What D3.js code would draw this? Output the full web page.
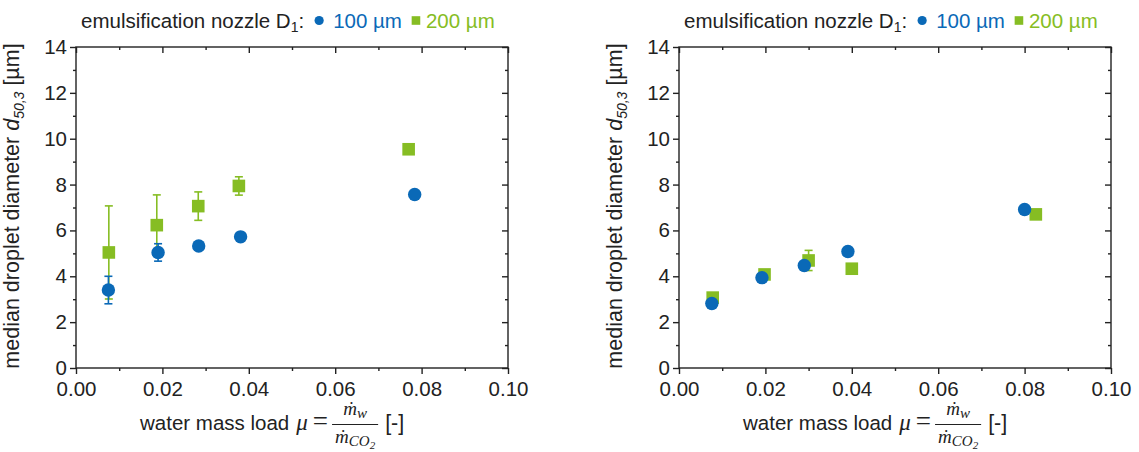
<!DOCTYPE html>
<html>
<head>
<meta charset="utf-8">
<script src="https://cdn.jsdelivr.net/npm/d3@7"></script>
<style>
  body { margin: 0; background: #fff; }
  text { font-family: "Liberation Sans", Arial, sans-serif; }
</style>
</head>
<body>
<svg id="chart" width="1139" height="452"></svg>
<script>
const xTicks = [0, 0.02, 0.04, 0.06, 0.08, 0.10];
const xMinor = [0.01, 0.03, 0.05, 0.07, 0.09];
const yTicks = [0, 2, 4, 6, 8, 10, 12, 14];
const yMinor = [1, 3, 5, 7, 9, 11, 13];
const seriesNames = ['100 µm', '200 µm'];
const seriesColors = ['#0a69b7', '#86bd23'];

// [water mass load, d50,3 in µm, error]
const left100 = [[0.0075, 3.40, 0.60], [0.0190, 5.04, 0.38], [0.0284, 5.32, 0], [0.0381, 5.72, 0], [0.0784, 7.57, 0]];
const left200 = [[0.0076, 5.04, 2.03], [0.0187, 6.23, 1.32], [0.0283, 7.06, 0.62], [0.0377, 7.94, 0.40], [0.0770, 9.54, 0.10]];
const right100 = [[0.0076, 2.81, 0.08], [0.0192, 3.94, 0.10], [0.0290, 4.47, 0.10], [0.0391, 5.08, 0], [0.0800, 6.91, 0]];
const right200 = [[0.0078, 3.07, 0], [0.0198, 4.08, 0], [0.0300, 4.69, 0.44], [0.0400, 4.33, 0], [0.0826, 6.70, 0]];

const svg = d3.select('#chart');
const ink = '#222';
const fs = 20.5;

drawPanel(76, left100, left200);
drawPanel(679, right100, right200);

function drawPanel(x0, d100, d200) {
  const x = d3.scaleLinear().domain([0, 0.1]).range([x0, x0 + 432]);
  const y = d3.scaleLinear().domain([0, 14]).range([368, 47]);
  const g = svg.append('g');

  // axes (Origin style: outer ticks on bottom/left, mirrored inner ticks top/right)
  const fmt = d3.format('.2f');
  axis(g, d3.axisBottom(x).tickValues(xTicks).tickSize(6).tickPadding(7).tickFormat(fmt), 0, 368);
  axis(g, d3.axisBottom(x).tickValues(xMinor).tickSize(3).tickFormat(''), 0, 368);
  axis(g, d3.axisTop(x).tickValues(xTicks).tickSize(-6).tickFormat(''), 0, 47);
  axis(g, d3.axisTop(x).tickValues(xMinor).tickSize(-3).tickFormat(''), 0, 47);
  axis(g, d3.axisLeft(y).tickValues(yTicks).tickSize(6).tickPadding(3).tickFormat(d3.format('d')), x0, 0);
  axis(g, d3.axisLeft(y).tickValues(yMinor).tickSize(3).tickFormat(''), x0, 0);
  axis(g, d3.axisRight(y).tickValues(yTicks).tickSize(-6).tickFormat(''), x0 + 432, 0);
  axis(g, d3.axisRight(y).tickValues(yMinor).tickSize(-3).tickFormat(''), x0 + 432, 0);

  g.append('rect')
    .attr('x', x0).attr('y', 47)
    .attr('width', 432).attr('height', 321)
    .attr('fill', 'none').attr('stroke', ink).attr('stroke-width', 1.4);

  // series: 200 µm first, 100 µm on top
  [[d200, 1], [d100, 0]].forEach(([data, si]) => {
    const col = seriesColors[si];
    const eb = g.append('g').attr('stroke', col).attr('stroke-width', 1.6);
    data.filter(d => d[2] > 0).forEach(d => {
      const cx = x(d[0]);
      eb.append('line').attr('x1', cx).attr('x2', cx).attr('y1', y(d[1] - d[2])).attr('y2', y(d[1] + d[2]));
      [d[1] - d[2], d[1] + d[2]].forEach(v => {
        eb.append('line').attr('x1', cx - 4).attr('x2', cx + 4).attr('y1', y(v)).attr('y2', y(v));
      });
    });
    if (si === 0) {
      g.selectAll(null).data(data).enter().append('circle')
        .attr('cx', d => x(d[0])).attr('cy', d => y(d[1])).attr('r', 6.7)
        .attr('fill', col);
    } else {
      g.selectAll(null).data(data).enter().append('rect')
        .attr('x', d => x(d[0]) - 6.3).attr('y', d => y(d[1]) - 6.3)
        .attr('width', 12.6).attr('height', 12.6).attr('fill', col);
    }
  });

  // legend title
  let cx = x0 + 5;
  const ty = 28;
  const t = g.append('text').attr('x', cx).attr('y', ty).attr('font-size', fs).attr('fill', ink);
  t.append('tspan').text('emulsification nozzle D');
  t.append('tspan').attr('font-size', 14).attr('dy', 4).text('1');
  t.append('tspan').attr('dy', -4).text(':');
  cx += t.node().getComputedTextLength() + 15;
  g.append('circle').attr('cx', cx).attr('cy', ty - 7.5).attr('r', 4.6).attr('fill', seriesColors[0]);
  cx += 14;
  const t1 = g.append('text').attr('x', cx).attr('y', ty).attr('font-size', fs)
    .attr('fill', seriesColors[0]).text(seriesNames[0]);
  cx += t1.node().getComputedTextLength() + 14;
  g.append('rect').attr('x', cx - 4.3).attr('y', ty - 11.8).attr('width', 8.6).attr('height', 8.6)
    .attr('fill', seriesColors[1]);
  cx += 10;
  g.append('text').attr('x', cx).attr('y', ty).attr('font-size', fs)
    .attr('fill', seriesColors[1]).text(seriesNames[1]);

  // y axis title
  const yt = g.append('text')
    .attr('transform', `translate(${x0 - 57},206) rotate(-90)`)
    .attr('text-anchor', 'middle').attr('font-size', 21.5).attr('fill', ink);
  yt.append('tspan').text('median droplet diameter ');
  yt.append('tspan').attr('font-style', 'italic').text('d');
  yt.append('tspan').attr('font-style', 'italic').attr('font-size', 14).attr('dy', 5).text('50,3');
  yt.append('tspan').attr('dy', -5).text(' [µm]');

  // x axis title
  const serif = '"Liberation Serif", "DejaVu Serif", serif';
  let lx = x0 + 64;
  const by = 430;
  const a = g.append('text').attr('x', lx).attr('y', by).attr('font-size', fs).attr('fill', ink)
    .text('water mass load');
  lx += a.node().getComputedTextLength() + 7;
  const mu = g.append('text').attr('x', lx).attr('y', by).attr('font-size', 23).attr('fill', ink)
    .attr('font-style', 'italic').style('font-family', serif).text('μ');
  lx += mu.node().getComputedTextLength() + 5;
  const eq = g.append('text').attr('x', lx).attr('y', by).attr('font-size', 27).attr('fill', ink)
    .style('font-family', serif).text('=');
  lx += eq.node().getComputedTextLength() + 4;
  const num = g.append('text').attr('y', by - 15).attr('font-size', 19).attr('fill', ink)
    .attr('font-style', 'italic').style('font-family', serif).attr('text-anchor', 'middle');
  num.append('tspan').text('ṁ');
  num.append('tspan').attr('font-size', 15).attr('dy', 3).text('w');
  const den = g.append('text').attr('y', by + 13).attr('font-size', 19).attr('fill', ink)
    .attr('font-style', 'italic').style('font-family', serif).attr('text-anchor', 'middle');
  den.append('tspan').text('ṁ');
  den.append('tspan').attr('font-size', 15).attr('dy', 3).text('CO');
  den.append('tspan').attr('font-size', 11).attr('dy', 3).text('2');
  const fw = Math.max(num.node().getComputedTextLength(), den.node().getComputedTextLength()) + 6;
  num.attr('x', lx + fw / 2);
  den.attr('x', lx + fw / 2);
  g.append('line').attr('x1', lx).attr('x2', lx + fw).attr('y1', by - 5.5).attr('y2', by - 5.5)
    .attr('stroke', ink).attr('stroke-width', 1.1);
  lx += fw + 7;
  g.append('text').attr('x', lx).attr('y', by).attr('font-size', 21.5).attr('fill', ink).text('[-]');
}

function axis(g, ax, tx, ty) {
  const a = g.append('g').attr('transform', `translate(${tx},${ty})`).call(ax);
  a.select('.domain').remove();
  a.attr('font-size', fs).attr('font-family', null);
  a.selectAll('line').attr('stroke', ink).attr('stroke-width', 1.4);
  a.selectAll('text').attr('fill', ink);
  return a;
}
</script>
</body>
</html>
